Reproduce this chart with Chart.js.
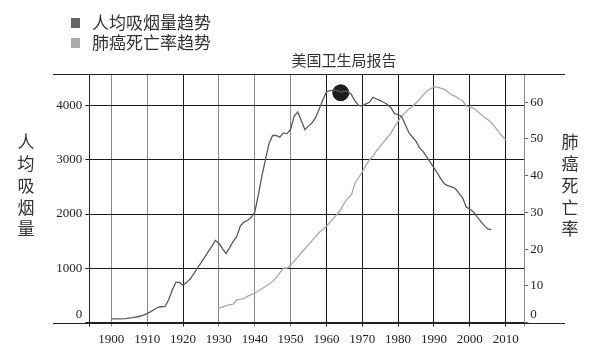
<!DOCTYPE html>
<html>
<head>
<meta charset="utf-8">
<script src="https://cdn.jsdelivr.net/npm/chart.js@4.4.0/dist/chart.umd.min.js"></script>
<style>
  html, body { margin: 0; padding: 0; background: #fff; }
  #wrap { width: 600px; height: 354px; }
</style>
</head>
<body>
<div id="wrap"><canvas id="smoking-chart"></canvas></div>
<script>
// 人均吸烟量 (left axis)
var smokeYears = [1900, 1902, 1904, 1906, 1908, 1910, 1911, 1912, 1913, 1914, 1915, 1916, 1917, 1918, 1919,
  1920, 1921, 1922, 1923, 1924, 1925, 1926, 1927, 1928, 1929, 1930, 1931, 1932, 1933, 1934, 1935, 1936, 1937,
  1938, 1939, 1940, 1941, 1942, 1943, 1944, 1945, 1946, 1947, 1948, 1949, 1950, 1951, 1952, 1953, 1954, 1955,
  1956, 1957, 1958, 1959, 1960, 1961, 1962, 1963, 1964, 1965, 1966, 1967, 1968, 1969, 1970, 1971, 1972, 1973,
  1974, 1975, 1976, 1977, 1978, 1979, 1980, 1981, 1982, 1983, 1984, 1985, 1986, 1987, 1988, 1989, 1990, 1991,
  1992, 1993, 1994, 1995, 1996, 1997, 1998, 1999, 2000, 2001, 2002, 2003, 2004, 2005, 2006];
var smokeValues = [65, 66, 72, 90, 115, 165, 200, 240, 280, 290, 295, 420, 600, 740, 740,
  690, 740, 800, 900, 1000, 1100, 1200, 1300, 1400, 1514, 1460, 1360, 1270, 1380, 1496, 1588, 1780, 1850,
  1880, 1940, 2030, 2350, 2700, 3003, 3300, 3447, 3447, 3416, 3496, 3483, 3560, 3800, 3880, 3720, 3557, 3620,
  3680, 3780, 3940, 4100, 4250, 4275, 4285, 4275, 4250, 4260, 4264, 4200, 4080, 4000, 3990, 4030, 4060, 4150,
  4120, 4090, 4060, 4020, 3960, 3850, 3830, 3800, 3650, 3500, 3420, 3340, 3220, 3150, 3050, 2950, 2850, 2750,
  2640, 2550, 2520, 2500, 2470, 2380, 2300, 2130, 2090, 2040, 1950, 1870, 1790, 1724, 1711];

// 肺癌死亡率 (right axis)
var lungYears = [1930, 1931, 1932, 1933, 1934, 1935, 1936, 1937, 1938, 1939, 1940, 1941, 1942, 1943, 1944,
  1945, 1946, 1947, 1948, 1949, 1950, 1951, 1952, 1953, 1954, 1955, 1956, 1957, 1958, 1959, 1960, 1961, 1962,
  1963, 1964, 1965, 1966, 1967, 1968, 1969, 1970, 1971, 1972, 1973, 1974, 1975, 1976, 1977, 1978, 1979, 1980,
  1981, 1982, 1983, 1984, 1985, 1986, 1987, 1988, 1989, 1990, 1991, 1992, 1993, 1994, 1995, 1996, 1997, 1998,
  1999, 2000, 2001, 2002, 2003, 2004, 2005, 2006, 2007, 2008, 2009, 2010];
var lungValues = [3.9, 4.2, 4.6, 4.8, 5.0, 6.2, 6.3, 6.6, 7.1, 7.6, 8.0, 8.6, 9.2, 9.8, 10.4,
  11.2, 12.2, 13.5, 14.8, 14.8, 15.5, 16.7, 17.8, 19.0, 20.1, 21.2, 22.3, 23.4, 24.5, 25.4, 26.2, 27.3, 28.4,
  29.5, 30.8, 32.5, 33.9, 34.8, 38.0, 39.5, 41.0, 42.8, 44.3, 45.3, 46.8, 48.0, 49.2, 50.4, 51.6, 53.3, 54.8,
  56.3, 57.2, 58.2, 58.9, 59.8, 60.8, 62.0, 63.0, 63.7, 64.2, 64.1, 63.8, 63.5, 62.7, 62.0, 61.6, 60.9, 60.4,
  59.0, 58.7, 58.4, 57.6, 56.8, 56.0, 55.3, 54.4, 53.3, 52.0, 50.8, 49.8];

// 美国卫生局报告 marker
var reportYear = 1964;
var reportValue = 4235;

var xTickLabels = [1900, 1910, 1920, 1930, 1940, 1950, 1960, 1970, 1980, 1990, 2000, 2010];
var leftTickLabels = [0, 1000, 2000, 3000, 4000];
var rightTickLabels = [0, 10, 20, 30, 40, 50, 60];
var grayGridYears = [1900, 1910, 1930, 1940, 1950];

var X_MIN = 1893.86, X_MAX = 2015.2;
var numFont = { family: "'Liberation Serif', serif", size: 13 };
var cjk = "'Noto Sans CJK SC', sans-serif";

function pairs(xs, ys) {
  return xs.map(function (x, i) { return { x: x, y: ys[i] }; });
}

function setTicks(list) {
  return function (scale) {
    scale.ticks = list.map(function (v) { return { value: v }; });
  };
}

var decor = {
  id: "decor",
  afterDraw: function (chart) {
    var c = chart.ctx;
    var a = chart.chartArea;
    c.save();
    // top and bottom frame lines
    c.strokeStyle = "#222";
    c.lineWidth = 1;
    c.beginPath();
    var yt = Math.round(a.top) + 0.5, yb = Math.round(a.bottom) + 0.5;
    c.moveTo(53, yt); c.lineTo(565, yt);
    c.moveTo(53, yb); c.lineTo(565, yb);
    c.stroke();

    // legend
    c.fillStyle = "#666";
    c.fillRect(71, 18, 9, 10);
    c.fillStyle = "#aaa";
    c.fillRect(71, 38, 9, 10);
    c.fillStyle = "#333";
    c.font = "17px " + cjk;
    c.textBaseline = "middle";
    c.textAlign = "left";
    c.fillText("人均吸烟量趋势", 92, 23);
    c.fillText("肺癌死亡率趋势", 92, 43);

    // title
    c.font = "15px " + cjk;
    c.textAlign = "center";
    c.fillText("美国卫生局报告", 344, 60);

    // vertical axis titles
    c.font = "17px " + cjk;
    var left = ["人", "均", "吸", "烟", "量"];
    var right = ["肺", "癌", "死", "亡", "率"];
    for (var i = 0; i < 5; i++) {
      c.fillText(left[i], 26, 142 + i * 21.7);
      c.fillText(right[i], 570, 142 + i * 21.7);
    }
    c.restore();
  }
};

new Chart(document.getElementById("smoking-chart"), {
  type: "line",
  data: {
    datasets: [
      {
        label: "人均吸烟量趋势",
        data: pairs(smokeYears, smokeValues),
        borderColor: "#5a5a5a",
        borderWidth: 1.3,
        pointRadius: 0,
        yAxisID: "y",
      },
      {
        label: "肺癌死亡率趋势",
        data: pairs(lungYears, lungValues),
        borderColor: "#a8a8a8",
        borderWidth: 1.3,
        pointRadius: 0,
        yAxisID: "y1",
      },
      {
        label: "美国卫生局报告",
        data: [{ x: reportYear, y: reportValue }],
        showLine: false,
        pointRadius: 8,
        pointBackgroundColor: "#1e1e1e",
        pointBorderColor: "#1e1e1e",
        yAxisID: "y",
      },
    ],
  },
  options: {
    responsive: true,
    maintainAspectRatio: false,
    animation: false,
    layout: { padding: { top: 74, left: 0, right: 0, bottom: 0 } },
    plugins: {
      legend: { display: false },
      title: { display: false },
      tooltip: { enabled: false },
    },
    scales: {
      x: {
        type: "linear",
        min: X_MIN,
        max: X_MAX,
        afterBuildTicks: setTicks([X_MIN].concat(xTickLabels, [X_MAX])),
        afterFit: function (s) { s.height = 31.5; },
        border: { color: "#222" },
        grid: {
          tickLength: 4,
          color: function (ctx) {
            var v = ctx.tick && ctx.tick.value;
            if (grayGridYears.indexOf(v) >= 0 || v === X_MAX) return "#8a8a8a";
            return "#1a1a1a";
          },
        },
        ticks: {
          autoSkip: false,
          maxRotation: 0,
          padding: 5,
          color: "#222",
          font: numFont,
          callback: function (v) { return xTickLabels.indexOf(v) >= 0 ? String(v) : ""; },
        },
      },
      y: {
        position: "left",
        min: 0,
        max: 4581,
        afterBuildTicks: setTicks(leftTickLabels),
        afterFit: function (s) { s.width = 89.3; },
        border: { color: "#222" },
        grid: { color: "#1a1a1a", tickLength: 4 },
        ticks: {
          padding: 3,
          color: "#222",
          font: numFont,
          callback: function (v) { return v === 0 ? ["0", ""] : String(v); },
        },
      },
      y1: {
        position: "right",
        min: 0,
        max: 67.7,
        afterBuildTicks: setTicks(rightTickLabels),
        afterFit: function (s) { s.width = 75.7; },
        border: { color: "#8a8a8a" },
        grid: { drawOnChartArea: false, color: "#666", tickLength: 4 },
        ticks: {
          padding: 2,
          color: "#222",
          font: numFont,
          callback: function (v) { return v === 0 ? ["0", ""] : String(v); },
        },
      },
    },
  },
  plugins: [decor],
});
</script>
</body>
</html>
